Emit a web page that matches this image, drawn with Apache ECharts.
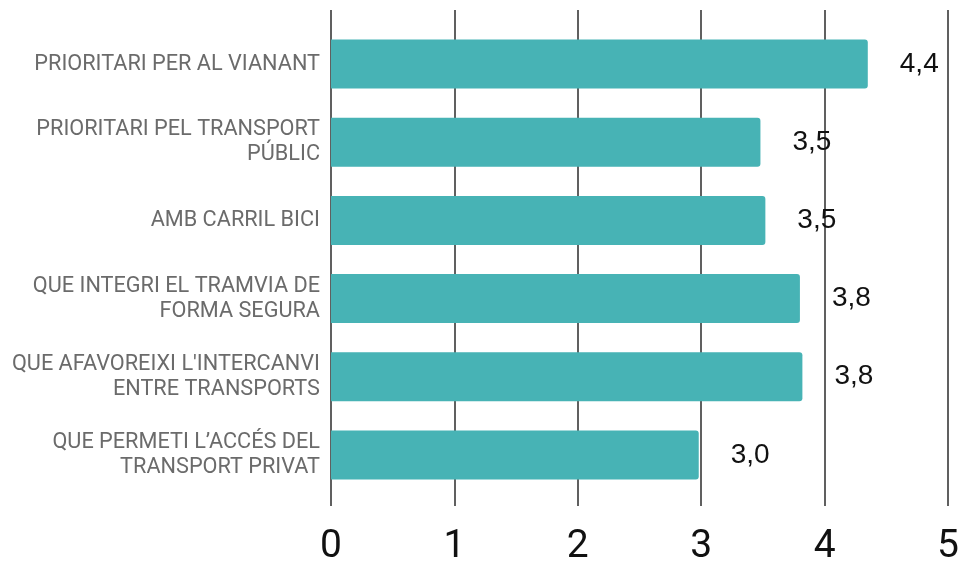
<!DOCTYPE html>
<html>
<head>
<meta charset="utf-8">
<script src="https://cdn.jsdelivr.net/npm/echarts@6/dist/echarts.min.js"></script>
<style>
  html, body { margin: 0; padding: 0; background: #fff; }
  #chart { width: 958px; height: 562px; }
</style>
</head>
<body>
<div id="chart"></div>
<script>
// categories (top to bottom)
var categories = [
  'PRIORITARI PER AL VIANANT',
  'PRIORITARI PEL TRANSPORT\nPÚBLIC',
  'AMB CARRIL BICI',
  'QUE INTEGRI EL TRAMVIA DE\nFORMA SEGURA',
  "QUE AFAVOREIXI L'INTERCANVI\nENTRE TRANSPORTS",
  'QUE PERMETI L\u2019ACCÉS DEL\nTRANSPORT PRIVAT'
];
// bar lengths
var values = [4.35, 3.48, 3.52, 3.8, 3.82, 2.98];
// labels printed next to the bars
var valueLabels = ['4,4', '3,5', '3,5', '3,8', '3,8', '3,0'];
var ticks = [0, 1, 2, 3, 4, 5];

var chart = echarts.init(document.getElementById('chart'));

var option = {
  animation: false,
  textStyle: { fontFamily: 'Roboto' },
  grid: [
    // grid for the vertical lines + big tick labels
    { left: 331, right: 10, top: 10, bottom: 56, outerBoundsMode: 'none', containLabel: false },
    // grid for the bars
    { left: 331, right: 10, top: 25, bottom: 68, outerBoundsMode: 'none', containLabel: false }
  ],
  xAxis: [
    {
      gridIndex: 0,
      type: 'value',
      min: ticks[0],
      max: ticks[ticks.length - 1],
      interval: 1,
      axisLine: { show: false },
      axisTick: { show: false },
      splitLine: { show: true, lineStyle: { color: '#2b2b2b', width: 1.5 } },
      axisLabel: {
        fontSize: 39,
        color: '#111',
        margin: 22,
        fontFamily: 'Roboto'
      }
    },
    {
      gridIndex: 1,
      type: 'value',
      min: ticks[0],
      max: ticks[ticks.length - 1],
      show: false
    }
  ],
  yAxis: [
    {
      gridIndex: 0,
      type: 'value',
      show: false
    },
    {
      gridIndex: 1,
      type: 'category',
      inverse: true,
      data: categories,
      axisLine: { show: false },
      axisTick: { show: false },
      axisLabel: {
        fontSize: 21.7,
        color: '#6b6b6b',
        margin: 11,
        lineHeight: 25,
        align: 'right',
        fontFamily: 'Roboto'
      }
    }
  ],
  series: [
    {
      type: 'bar',
      xAxisIndex: 1,
      yAxisIndex: 1,
      data: values,
      barWidth: 49,
      itemStyle: { color: '#47b3b5', borderRadius: [0, 3, 3, 0] },
      label: {
        show: true,
        position: 'right',
        distance: 32,
        fontSize: 28,
        color: '#111',
        fontFamily: 'Liberation Sans',
        formatter: function (p) { return valueLabels[p.dataIndex]; }
      }
    }
  ]
};

chart.setOption(option);
</script>
</body>
</html>
